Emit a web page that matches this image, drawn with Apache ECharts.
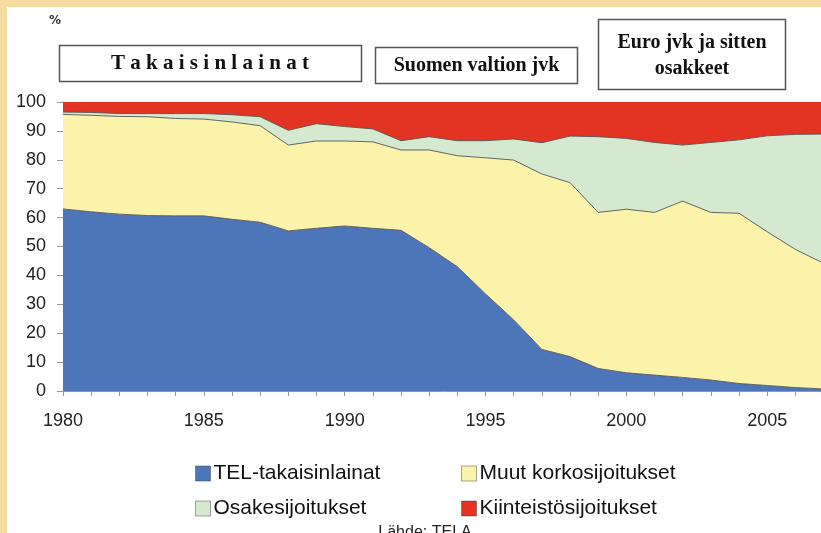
<!DOCTYPE html>
<html>
<head>
<meta charset="utf-8">
<script src="https://cdn.jsdelivr.net/npm/echarts@6/dist/echarts.min.js"></script>
<style>
  html, body { margin: 0; padding: 0; }
  body { width: 821px; height: 533px; background: #F6DCA2; position: relative; overflow: hidden; }
  #paper { position: absolute; left: 7px; top: 7px; width: 814px; height: 526px; background: #ffffff; }
  #chart { position: absolute; left: 0; top: 0; width: 840px; height: 533px; }
</style>
</head>
<body>
<div id="paper"></div>
<div id="chart"></div>
<script>
const years = ['1980','1981','1982','1983','1984','1985','1986','1987','1988','1989',
               '1990','1991','1992','1993','1994','1995','1996','1997','1998','1999',
               '2000','2001','2002','2003','2004','2005','2006','2007'];
const labeledYears = ['1980','1985','1990','1995','2000','2005'];
const seriesNames = ['TEL-takaisinlainat','Muut korkosijoitukset','Osakesijoitukset','Kiinteistösijoitukset'];
const telLoans = [63.0, 62.0, 61.2, 60.7, 60.6, 60.6, 59.4, 58.4, 55.4, 56.3,
                  57.1, 56.3, 55.6, 49.6, 43.0, 33.6, 24.6, 14.4, 11.9, 7.8,
                  6.3, 5.5, 4.7, 3.8, 2.6, 1.9, 1.2, 0.7];
const otherFixedIncome = [32.7, 33.4, 33.8, 34.2, 33.7, 33.5, 33.7, 33.4, 29.7, 30.2,
                          29.4, 29.9, 27.8, 33.8, 38.4, 47.1, 55.3, 60.7, 60.2, 54.0,
                          56.6, 56.3, 61.0, 58.0, 58.9, 53.2, 47.8, 43.5];
const equities = [0.8, 1.0, 1.0, 1.1, 1.7, 1.9, 2.5, 3.1, 5.1, 6.0,
                  5.0, 4.5, 3.2, 4.6, 5.2, 5.9, 7.3, 10.8, 16.1, 26.2,
                  24.5, 24.2, 19.4, 24.2, 25.4, 33.2, 39.8, 44.7];
const realEstate = [3.5, 3.6, 4.0, 4.0, 4.0, 4.0, 4.4, 5.1, 9.8, 7.5,
                    8.5, 9.3, 13.4, 12.0, 13.4, 13.4, 12.8, 14.1, 11.8, 12.0,
                    12.6, 14.0, 14.9, 14.0, 13.1, 11.7, 11.2, 11.1];
const colors = ['#4C75BA', '#FBF3AA', '#D5E8D0', '#E33423'];
const boxTitles = ['T a k a i s i n l a i n a t', 'Suomen valtion jvk', 'Euro jvk ja sitten\nosakkeet'];

const chart = echarts.init(document.getElementById('chart'), null, { renderer: 'canvas' });
const values = [telLoans, otherFixedIncome, equities, realEstate];

function mkSeries(i) {
  return {
    name: seriesNames[i],
    type: 'line',
    stack: 'total',
    data: values[i],
    symbol: 'none',
    smooth: false,
    itemStyle: { color: colors[i] },
    lineStyle: { color: i === 3 ? colors[3] : '#555', width: i === 3 ? 0 : 0.9 },
    areaStyle: { color: colors[i], opacity: 1 },
    emphasis: { disabled: true },
    z: 2
  };
}

function mkLegend(i, left, top) {
  return {
    data: [seriesNames[i]],
    left: left, top: top,
    icon: 'rect',
    itemWidth: 15, itemHeight: 15,
    itemGap: 5,
    itemStyle: { borderColor: 'rgba(60,60,60,0.45)', borderWidth: 1 },
    textStyle: { fontFamily: 'Liberation Sans', fontSize: 21, color: '#111', padding: [0, 0, 0, -2] },
    selectedMode: false
  };
}

const boxTextStyle = { fontFamily: 'Liberation Serif', fontWeight: 'bold', fontSize: 20, fill: '#111', align: 'center', verticalAlign: 'middle' };

chart.setOption({
  animation: false,
  backgroundColor: 'transparent',
  grid: { left: 63, top: 102, width: 760.5, height: 289, containLabel: false },
  xAxis: {
    type: 'category',
    data: years,
    boundaryGap: false,
    axisLine: { lineStyle: { color: '#999', width: 1 } },
    axisTick: { show: true, interval: 0, length: 5, lineStyle: { color: '#999' } },
    axisLabel: {
      interval: 0,
      formatter: v => labeledYears.indexOf(v) >= 0 ? v : '',
      fontFamily: 'Liberation Sans', fontSize: 18, color: '#222', margin: 21
    },
    splitLine: { show: false }
  },
  yAxis: {
    type: 'value',
    min: 0, max: 100, interval: 10,
    axisLine: { show: true, lineStyle: { color: '#999', width: 1 } },
    axisTick: { show: true, length: 6, lineStyle: { color: '#999' } },
    axisLabel: { fontFamily: 'Liberation Sans', fontSize: 18, color: '#222', margin: 17 },
    splitLine: { show: false }
  },
  legend: [
    mkLegend(0, 190, 458),
    mkLegend(1, 456, 458),
    mkLegend(2, 190, 493),
    mkLegend(3, 456, 493)
  ],
  series: [0, 1, 2, 3].map(mkSeries),
  graphic: [
    { type: 'text', left: 49, top: 15, style: { text: '%', fontFamily: 'DejaVu Sans', fontWeight: 'bold', fontSize: 12, fill: '#333' } },
    { type: 'rect', shape: { x: 59.5, y: 45.5, width: 302, height: 36 }, style: { fill: '#fff', stroke: '#555', lineWidth: 1.5 } },
    { type: 'text', x: 210, y: 64, style: Object.assign({}, boxTextStyle, { text: boxTitles[0], fontSize: 21 }) },
    { type: 'rect', shape: { x: 375.5, y: 47.5, width: 202, height: 36 }, style: { fill: '#fff', stroke: '#555', lineWidth: 1.5 } },
    { type: 'text', x: 476.5, y: 66, style: Object.assign({ text: boxTitles[1] }, boxTextStyle) },
    { type: 'rect', shape: { x: 598.5, y: 19.5, width: 187, height: 70 }, style: { fill: '#fff', stroke: '#555', lineWidth: 1.5 } },
    { type: 'text', x: 692, y: 56, style: Object.assign({ text: boxTitles[2], lineHeight: 26 }, boxTextStyle) },
    { type: 'text', x: 425, y: 533, style: { text: 'Lähde: TELA', fontFamily: 'Liberation Sans', fontSize: 16, fill: '#222', align: 'center', verticalAlign: 'middle' } }
  ]
});
</script>
</body>
</html>
